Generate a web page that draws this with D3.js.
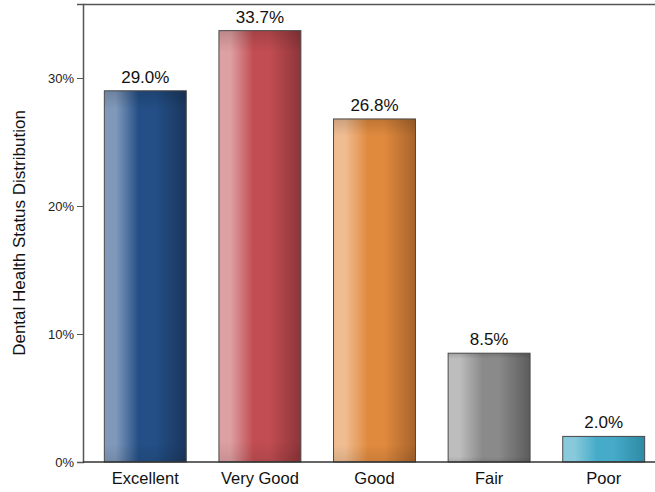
<!DOCTYPE html>
<html>
<head>
<meta charset="utf-8">
<script src="https://cdn.jsdelivr.net/npm/d3@7"></script>
<style>
	body { margin: 0; background: #fff; }
	text { font-family: "Liberation Sans", Arial, sans-serif; }
</style>
</head>
<body>
<div id="chartDiv"></div>
<script>
const categories = ['Excellent', 'Very Good', 'Good', 'Fair', 'Poor'];
const values = [29.0, 33.7, 26.8, 8.5, 2.0];
const yTicks = [0, 10, 20, 30];
// light / mid / dark per bar
const barColors = [
	['#8099bb', '#234f86', '#1a365c'],
	['#dea0a2', '#c24d52', '#8c3539'],
	['#f0bd92', '#e08a3e', '#a8632b'],
	['#bdbdbd', '#8a8a8a', '#5c5c5c'],
	['#88cadc', '#45abc8', '#2e8aa4']
];

var canvasW = 655, canvasH = 492;
const svg = d3.select('#chartDiv')
	.append('svg')
	.attr('width', canvasW)
	.attr('height', canvasH);

const margin = {top: 4, left: 83, bottom: 30};
const plotBottom = canvasH - margin.bottom;

const y = d3.scaleLinear()
	.domain([0, 35.78])
	.range([plotBottom, margin.top]);

const x = d3.scaleBand()
	.domain(categories)
	.range([88, 661])
	.paddingInner(0.285)
	.paddingOuter(0.1425);

const defs = svg.append('defs');
barColors.forEach((c, i) => {
	const g = defs.append('linearGradient')
		.attr('id', 'grad' + i)
		.attr('x1', 0).attr('x2', 1).attr('y1', 0).attr('y2', 0);
	g.append('stop').attr('offset', '0%').attr('stop-color', c[0]);
	g.append('stop').attr('offset', '14%').attr('stop-color', c[0]);
	g.append('stop').attr('offset', '42%').attr('stop-color', c[1]);
	g.append('stop').attr('offset', '62%').attr('stop-color', c[1]);
	g.append('stop').attr('offset', '100%').attr('stop-color', c[2]);
});
// top/bottom shading overlay
const shade = defs.append('linearGradient')
	.attr('id', 'shade')
	.attr('x1', 0).attr('x2', 0).attr('y1', 0).attr('y2', 1);
shade.append('stop').attr('offset', '0%').attr('stop-color', '#000').attr('stop-opacity', 0.15);
shade.append('stop').attr('offset', '5%').attr('stop-color', '#000').attr('stop-opacity', 0);
shade.append('stop').attr('offset', '95%').attr('stop-color', '#000').attr('stop-opacity', 0);
shade.append('stop').attr('offset', '100%').attr('stop-color', '#000').attr('stop-opacity', 0.1);

// top border line
svg.append('line')
	.attr('x1', margin.left).attr('x2', canvasW)
	.attr('y1', margin.top + 0.5).attr('y2', margin.top + 0.5)
	.attr('stroke', '#555').attr('stroke-width', 1.5);

const bars = svg.selectAll('g.bar')
	.data(values)
	.enter()
	.append('g')
	.attr('class', 'bar');

bars.append('rect')
	.attr('x', (d, i) => x(categories[i]))
	.attr('y', d => y(d))
	.attr('width', x.bandwidth())
	.attr('height', d => plotBottom - y(d))
	.attr('fill', (d, i) => `url(#grad${i})`);

bars.append('rect')
	.attr('x', (d, i) => x(categories[i]))
	.attr('y', d => y(d))
	.attr('width', x.bandwidth())
	.attr('height', d => plotBottom - y(d))
	.attr('fill', 'url(#shade)')
	.attr('stroke', '#4a4a4a')
	.attr('stroke-width', 1);

bars.append('text')
	.attr('x', (d, i) => x(categories[i]) + x.bandwidth() / 2)
	.attr('y', d => y(d) - 8)
	.attr('text-anchor', 'middle')
	.attr('font-size', 17)
	.attr('fill', '#111')
	.text(d => d.toFixed(1) + '%');

const yAxis = d3.axisLeft(y)
	.tickValues(yTicks)
	.tickSize(6)
	.tickFormat(d => d + '%');
const yAxisGroup = svg.append('g')
	.attr('transform', `translate(${margin.left},0)`)
	.call(yAxis);
yAxisGroup.select('.domain').attr('stroke', '#555').attr('stroke-width', 1.5);
yAxisGroup.selectAll('.tick line').attr('stroke', '#555');
yAxisGroup.selectAll('.tick text')
	.attr('font-size', 13).attr('fill', '#222')
	.attr('font-family', '"Liberation Sans", Arial, sans-serif');

const xAxisGroup = svg.append('g')
	.attr('transform', `translate(0,${plotBottom})`)
	.call(d3.axisBottom(x).tickSize(0).tickPadding(10));
xAxisGroup.select('.domain').remove();
xAxisGroup.append('line')
	.attr('x1', margin.left).attr('x2', canvasW)
	.attr('y1', 0).attr('y2', 0)
	.attr('stroke', '#333').attr('stroke-width', 1.5);
xAxisGroup.selectAll('.tick text')
	.attr('font-size', 16.5).attr('fill', '#111')
	.attr('font-family', '"Liberation Sans", Arial, sans-serif');

svg.append('text')
	.attr('transform', `translate(25,${(margin.top + plotBottom) / 2}) rotate(-90)`)
	.attr('text-anchor', 'middle')
	.attr('font-size', 17)
	.attr('fill', '#111')
	.text('Dental Health Status Distribution');
</script>
</body>
</html>
